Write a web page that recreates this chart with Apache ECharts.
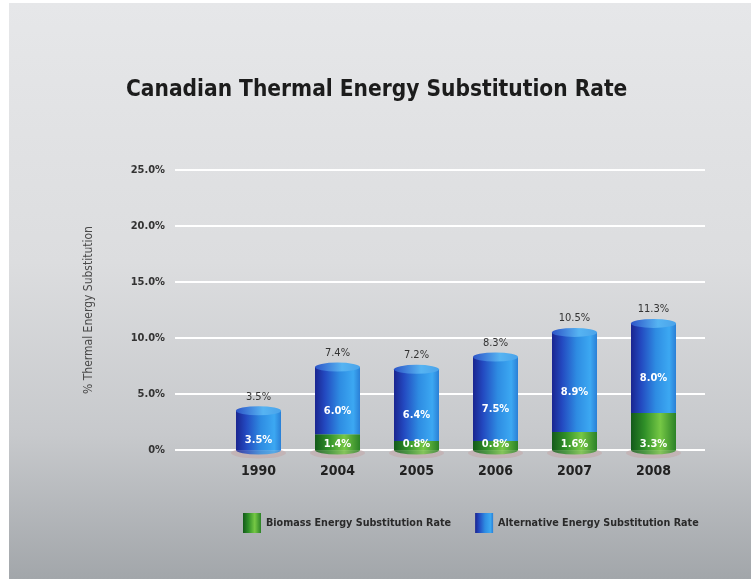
<!DOCTYPE html>
<html>
<head>
<meta charset="utf-8">
<title>Canadian Thermal Energy Substitution Rate</title>
<script src="https://cdn.jsdelivr.net/npm/echarts@6/dist/echarts.min.js"></script>
<style>
  html, body { margin: 0; padding: 0; background: #ffffff; }
  #chart { width: 751px; height: 579px; }
</style>
</head>
<body>
<div id="chart"></div>
<script>
// Substitution rates (% of thermal energy) by year
const years = ['1990', '2004', '2005', '2006', '2007', '2008'];
const biomassRate = [0, 1.4, 0.8, 0.8, 1.6, 3.3];
const alternativeRate = [3.5, 6.0, 6.4, 7.5, 8.9, 8.0];
const totalRate = [3.5, 7.4, 7.2, 8.3, 10.5, 11.3];
const yTickLabels = ['0%', '5.0%', '10.0%', '15.0%', '20.0%', '25.0%'];
const seriesNames = ['Biomass Energy Substitution Rate', 'Alternative Energy Substitution Rate'];

const FONT = '"Liberation Sans Narrow", "DejaVu Sans Condensed", "Open Sans", sans-serif';
const BAR_W = 45;

const G = echarts.graphic.LinearGradient;
const blueFill = new G(0, 0, 1, 0, [
  { offset: 0, color: '#1a2590' },
  { offset: 0.22, color: '#2349c0' },
  { offset: 0.55, color: '#2e8ce2' },
  { offset: 0.85, color: '#3ca8f2' },
  { offset: 1, color: '#2a7fd6' }
]);
const greenFill = new G(0, 0, 1, 0, [
  { offset: 0, color: '#135a1a' },
  { offset: 0.3, color: '#2f8f28' },
  { offset: 0.65, color: '#76c845' },
  { offset: 1, color: '#2b8227' }
]);
const capFill = new G(0, 0, 1, 0, [
  { offset: 0, color: '#2d55c8' },
  { offset: 0.6, color: '#56b4f2' },
  { offset: 1, color: '#4aa3ea' }
]);

const pct = v => v.toFixed(1) + '%';
const labelFont = { fontFamily: FONT, fontWeight: 'bold', fontSize: 11 };

const chart = echarts.init(document.getElementById('chart'), null, { renderer: 'canvas' });

chart.setOption({
  backgroundColor: '#ffffff',
  animation: false,
  graphic: [{
    type: 'rect',
    z: -10,
    shape: { x: 9, y: 3, width: 742, height: 576 },
    style: {
      fill: new G(0, 0, 0, 1, [
        { offset: 0, color: '#e6e7e9' },
        { offset: 0.45, color: '#dcdddf' },
        { offset: 0.75, color: '#c7c9cc' },
        { offset: 1, color: '#a2a6aa' }
      ])
    }
  }],
  title: {
    text: 'Canadian Thermal Energy Substitution Rate',
    left: 121,
    top: 74,
    textStyle: { fontFamily: FONT, fontWeight: 'bold', fontSize: 22.5, color: '#1c1c1c' }
  },
  legend: {
    left: 238,
    top: 508,
    itemWidth: 18,
    itemHeight: 20,
    itemGap: 24,
    icon: 'rect',
    data: seriesNames,
    textStyle: { fontFamily: FONT, fontWeight: 'bold', fontSize: 10.7, color: '#2a2a2a' }
  },
  grid: [
    { left: 175, right: 46, top: 170, bottom: 129 },
    { left: 219, right: 58, top: 170, bottom: 129 }
  ],
  xAxis: [
    { type: 'category', gridIndex: 0, data: years, show: false },
    {
      type: 'category', gridIndex: 1, data: years,
      axisLine: { show: false }, axisTick: { show: false },
      axisLabel: { margin: 14, fontFamily: FONT, fontWeight: 'bold', fontSize: 14, color: '#222' }
    }
  ],
  yAxis: [
    {
      type: 'value', gridIndex: 0, min: 0, max: 25, interval: 5,
      name: '% Thermal Energy Substitution',
      nameLocation: 'middle', nameGap: 80, nameRotate: 90,
      nameTextStyle: { fontFamily: FONT, fontSize: 12, color: '#4a4a4a' },
      axisLine: { show: false }, axisTick: { show: false },
      axisLabel: {
        margin: 10,
        fontFamily: FONT, fontWeight: 'bold', fontSize: 11, color: '#333',
        formatter: v => yTickLabels[Math.round(v / 5)]
      },
      splitLine: { lineStyle: { color: '#ffffff', width: 2 } }
    },
    { type: 'value', gridIndex: 1, min: 0, max: 25, interval: 5, show: false, splitLine: { show: false } }
  ],
  series: [
    {
      // soft shadow under each cylinder
      type: 'scatter', xAxisIndex: 1, yAxisIndex: 1, z: 0, silent: true,
      symbol: 'circle', symbolSize: [BAR_W + 10, 11], symbolOffset: [0, 3],
      itemStyle: { color: 'rgba(196,160,160,0.55)' },
      data: years.map(() => 0)
    },
    {
      // rounded base of each cylinder
      type: 'scatter', xAxisIndex: 1, yAxisIndex: 1, z: 1, silent: true,
      symbol: 'circle', symbolSize: [BAR_W, 9],
      data: biomassRate.map(b => ({ value: 0, itemStyle: { color: b > 0 ? greenFill : blueFill } }))
    },
    {
      name: seriesNames[0],
      type: 'bar', xAxisIndex: 1, yAxisIndex: 1, stack: 'rate', z: 2,
      barWidth: BAR_W,
      itemStyle: { color: greenFill },
      label: {
        show: true, position: 'insideBottom', distance: 0, color: '#ffffff', ...labelFont,
        formatter: p => (p.value > 0 ? pct(p.value) : '')
      },
      data: biomassRate
    },
    {
      name: seriesNames[1],
      type: 'bar', xAxisIndex: 1, yAxisIndex: 1, stack: 'rate', z: 2,
      barWidth: BAR_W,
      itemStyle: { color: blueFill },
      label: {
        show: true, position: 'inside', offset: [0, 10], color: '#ffffff', ...labelFont,
        formatter: p => pct(p.value)
      },
      data: alternativeRate
    },
    {
      // cylinder top with total rate label
      type: 'pictorialBar', xAxisIndex: 1, yAxisIndex: 1, z: 3, silent: true,
      symbol: 'circle', symbolSize: [BAR_W, 9], symbolPosition: 'end', symbolOffset: [0, '-50%'],
      itemStyle: { color: capFill },
      label: {
        show: true, position: 'top', distance: 4, color: '#333', ...labelFont,
        fontWeight: 'normal', formatter: p => pct(p.value)
      },
      data: totalRate
    }
  ]
});
</script>
</body>
</html>
